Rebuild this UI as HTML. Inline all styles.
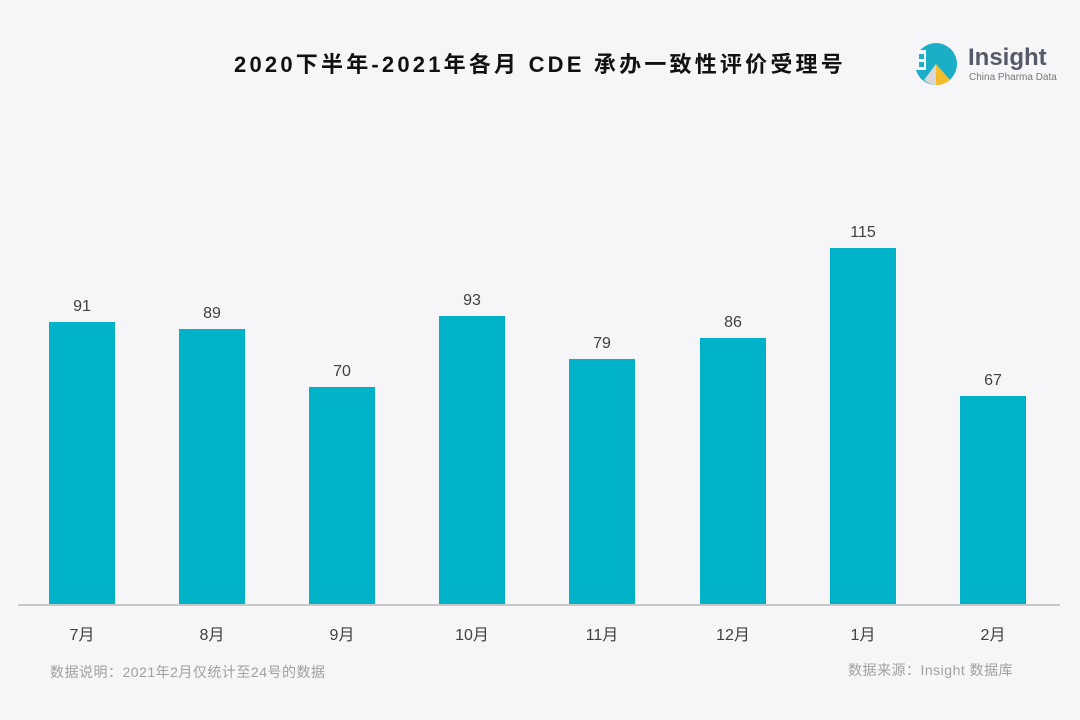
<!DOCTYPE html>
<html><head><meta charset="utf-8"><style>
body{margin:0;width:1080px;height:720px;background:#f6f6f8;font-family:"Liberation Sans","Noto Sans CJK SC",sans-serif;position:relative;overflow:hidden}
.t{position:absolute;white-space:nowrap}
.bar{position:absolute;background:#00b2c8;width:66px}
.v{position:absolute;width:66px;text-align:center;font-size:16px;color:#404040}
.x{position:absolute;width:66px;text-align:center;font-size:16px;color:#404040;top:621px}
</style></head><body>
<div class="t" style="left:0;width:1080px;text-align:center;top:47px;font-size:22px;font-weight:bold;color:#111;letter-spacing:3.2px">2020下半年-2021年各月 CDE 承办一致性评价受理号</div>
<svg class="t" style="left:912px;top:42px" width="48" height="46" viewBox="0 0 48 46">
<circle cx="24" cy="22" r="21" fill="#1aaec7"/>
<path d="M24 22 L12 38 A21 21 0 0 0 24 43 Z" fill="#d8d8d8"/>
<path d="M24 22 L24 43 A21 21 0 0 0 38 38 Z" fill="#f2bc2c"/>
<rect x="2" y="8" width="12" height="20" fill="#f6f6f8"/>
<rect x="7" y="12" width="5" height="5" fill="#1aaec7"/><rect x="7" y="20" width="5" height="5" fill="#1aaec7"/>
</svg>
<div class="t" style="left:968px;top:44px;font-size:24px;font-weight:bold;color:#555a66">Insight</div>
<div class="t" style="left:969px;top:72px;font-size:10px;color:#777">China Pharma Data</div>
<div style="position:absolute;left:18px;width:1042px;top:604px;height:2px;background:#c8c8c8"></div>
<div class="bar" style="left:49px;top:322px;height:282px"></div><div class="v" style="left:49px;top:298px">91</div><div class="x" style="left:49px">7月</div>
<div class="bar" style="left:179px;top:329px;height:275px"></div><div class="v" style="left:179px;top:305px">89</div><div class="x" style="left:179px">8月</div>
<div class="bar" style="left:309px;top:387px;height:217px"></div><div class="v" style="left:309px;top:363px">70</div><div class="x" style="left:309px">9月</div>
<div class="bar" style="left:439px;top:316px;height:288px"></div><div class="v" style="left:439px;top:292px">93</div><div class="x" style="left:439px">10月</div>
<div class="bar" style="left:569px;top:359px;height:245px"></div><div class="v" style="left:569px;top:335px">79</div><div class="x" style="left:569px">11月</div>
<div class="bar" style="left:700px;top:338px;height:266px"></div><div class="v" style="left:700px;top:314px">86</div><div class="x" style="left:700px">12月</div>
<div class="bar" style="left:830px;top:248px;height:356px"></div><div class="v" style="left:830px;top:224px">115</div><div class="x" style="left:830px">1月</div>
<div class="bar" style="left:960px;top:396px;height:208px"></div><div class="v" style="left:960px;top:372px">67</div><div class="x" style="left:960px">2月</div>
<div class="t" style="left:50px;top:662px;font-size:14px;letter-spacing:0.5px;color:#a0a0a0">数据说明：2021年2月仅统计至24号的数据</div>
<div class="t" style="left:848px;top:660px;font-size:14px;letter-spacing:0.5px;color:#a0a0a0">数据来源：Insight 数据库</div>
</body></html>
